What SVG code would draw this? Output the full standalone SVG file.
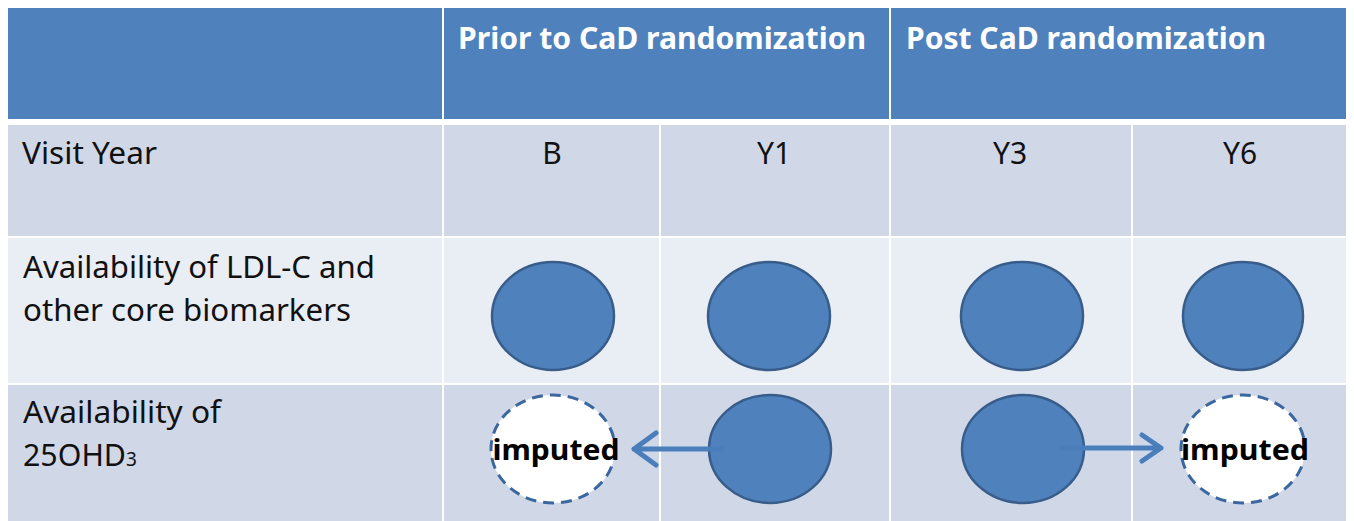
<svg xmlns="http://www.w3.org/2000/svg" width="1354" height="521" viewBox="0 0 1354 521">
<defs>
<style>
.hdr{fill:#4f81bd}
.dk{fill:#d0d8e8}
.lt{fill:#e9edf4}
.ht{font-family:"Noto Sans","Liberation Sans",sans-serif;font-weight:bold;font-size:31px;fill:#ffffff}
.lb{font-family:"Noto Sans","Liberation Sans",sans-serif;font-size:30px;fill:#111111}
.ct{font-family:"Noto Sans","Liberation Sans",sans-serif;font-size:30px;fill:#111111;text-anchor:middle}
.dot{fill:#4f81bd;stroke:#385d8a;stroke-width:2.5}
.imp{fill:#ffffff;stroke:#3b67a0;stroke-width:3;stroke-dasharray:11 7}
.it{font-family:"Noto Sans","Liberation Sans",sans-serif;font-weight:bold;font-size:29px;fill:#000000;text-anchor:middle}
.arr{fill:none;stroke:#4a7ebb;stroke-width:5;stroke-linecap:round;stroke-linejoin:round}
</style>
</defs>
<rect width="1354" height="521" fill="#ffffff"/>
<g id="table">
<rect class="hdr" x="8" y="8" width="434" height="111"/>
<rect class="hdr" x="444" y="8" width="445" height="111"/>
<rect class="hdr" x="891" y="8" width="455" height="111"/>
<rect class="dk" x="8" y="125" width="434" height="111"/>
<rect class="dk" x="444" y="125" width="215" height="111"/>
<rect class="dk" x="661" y="125" width="228" height="111"/>
<rect class="dk" x="891" y="125" width="240" height="111"/>
<rect class="dk" x="1133" y="125" width="213" height="111"/>
<rect class="lt" x="8" y="238" width="434" height="145"/>
<rect class="lt" x="444" y="238" width="215" height="145"/>
<rect class="lt" x="661" y="238" width="228" height="145"/>
<rect class="lt" x="891" y="238" width="240" height="145"/>
<rect class="lt" x="1133" y="238" width="213" height="145"/>
<rect class="dk" x="8" y="385" width="434" height="136"/>
<rect class="dk" x="444" y="385" width="215" height="136"/>
<rect class="dk" x="661" y="385" width="228" height="136"/>
<rect class="dk" x="891" y="385" width="240" height="136"/>
<rect class="dk" x="1133" y="385" width="213" height="136"/>
</g>
<g id="headers">
<text class="ht" x="458" y="49" textLength="408" lengthAdjust="spacingAndGlyphs">Prior to CaD randomization</text>
<text class="ht" x="906" y="49" textLength="360" lengthAdjust="spacingAndGlyphs">Post CaD randomization</text>
</g>
<g id="row-labels">
<text class="lb" x="22" y="164" textLength="135" lengthAdjust="spacingAndGlyphs">Visit Year</text>
<text class="lb" x="23" y="278" textLength="352" lengthAdjust="spacingAndGlyphs">Availability of LDL-C and</text>
<text class="lb" x="23" y="321" textLength="328" lengthAdjust="spacingAndGlyphs">other core biomarkers</text>
<text class="lb" x="23" y="423" textLength="198" lengthAdjust="spacingAndGlyphs">Availability of</text>
<text class="lb" x="23" y="466"><tspan textLength="103" lengthAdjust="spacingAndGlyphs">25OHD</tspan><tspan font-size="19">3</tspan></text>
</g>
<g id="visit-years">
<text class="ct" x="552" y="164">B</text>
<text class="ct" x="774" y="164">Y1</text>
<text class="ct" x="1010" y="164">Y3</text>
<text class="ct" x="1240" y="164">Y6</text>
</g>
<g id="ldl-B"><ellipse class="dot" cx="553" cy="316" rx="61" ry="54"/></g>
<g id="ldl-Y1"><ellipse class="dot" cx="769" cy="316" rx="61" ry="54"/></g>
<g id="ldl-Y3"><ellipse class="dot" cx="1022" cy="316" rx="61" ry="54"/></g>
<g id="ldl-Y6"><ellipse class="dot" cx="1243" cy="316" rx="60" ry="54"/></g>
<g id="vd-B"><ellipse class="imp" cx="553" cy="449" rx="62" ry="54"/><text class="it" x="556" y="460" textLength="127" lengthAdjust="spacingAndGlyphs">imputed</text></g>
<g id="vd-Y1"><ellipse class="dot" cx="770" cy="449" rx="61" ry="54"/></g>
<g id="vd-Y3"><ellipse class="dot" cx="1023" cy="449" rx="61" ry="54"/></g>
<g id="vd-Y6"><ellipse class="imp" cx="1243" cy="449" rx="62" ry="54"/><text class="it" x="1245" y="460" textLength="128" lengthAdjust="spacingAndGlyphs">imputed</text></g>
<g id="connectors">
<path class="arr" d="M722 449 H634 M656 433 L634 449 L656 465"/>
<path class="arr" d="M1062 448 H1161 M1142 435 L1161 448 L1142 461"/>
</g>
</svg>
